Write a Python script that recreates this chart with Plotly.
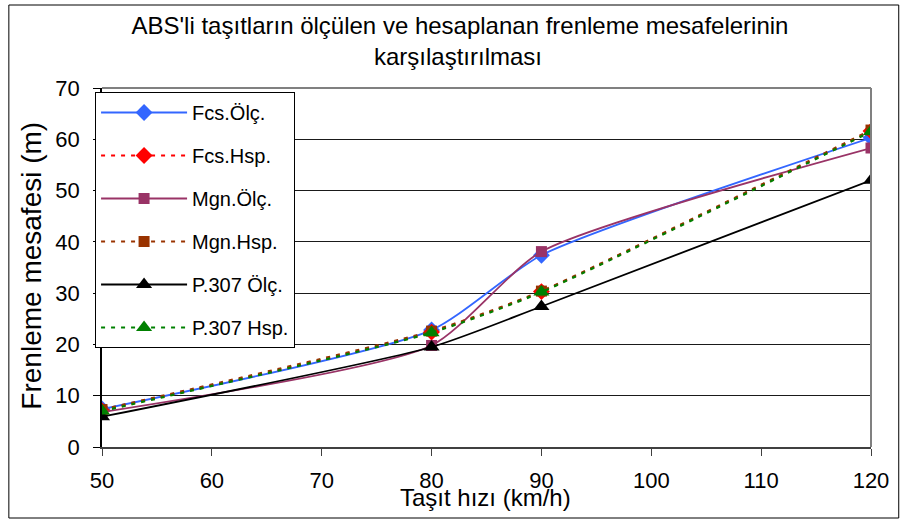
import plotly.graph_objects as go

# Vehicle speed (km/h)
speed = [50, 80, 90, 120]

# Braking distances (m): measured (Ölç.) and calculated (Hsp.)
fcs_olc = [7.4, 22.8, 37.4, 60.3]
fcs_hsp = [7.1, 22.4, 30.3, 61.6]
mgn_olc = [6.8, 19.8, 38.1, 58.3]
mgn_hsp = [7.3, 22.6, 30.4, 61.8]
p307_olc = [5.9, 19.5, 27.4, 52.0]
p307_hsp = [7.0, 22.3, 30.2, 61.5]

x_ticks = [50, 60, 70, 80, 90, 100, 110, 120]
y_ticks = [0, 10, 20, 30, 40, 50, 60, 70]

series = [
    ("Fcs.Ölç.", fcs_olc, "#3366FF", "solid", "diamond", 13),
    ("Fcs.Hsp.", fcs_hsp, "#FF0000", "4px,6px", "diamond", 13),
    ("Mgn.Ölç.", mgn_olc, "#993366", "solid", "square", 11),
    ("Mgn.Hsp.", mgn_hsp, "#993300", "4px,6px", "square", 11),
    ("P.307 Ölç.", p307_olc, "#000000", "solid", "triangle-up", 14),
    ("P.307 Hsp.", p307_hsp, "#008000", "4px,6px", "triangle-up", 14),
]

fig = go.Figure()
for i, (name, vals, color, dash, symbol, msize) in enumerate(series):
    fig.add_trace(go.Scatter(
        x=speed, y=vals, name=name, mode="lines+markers",
        legendgroup=f"g{i}",
        line=dict(color=color, width=2.2 if dash != "solid" else 1.8,
                  dash=dash, shape="spline", smoothing=0.6),
        marker=dict(symbol=symbol, size=msize, color=color,
                    line=dict(width=0)),
    ))

L, R, T, B = 102, 23, 88, 73
W, H = 901, 520
pw, ph = W - L - R, H - T - B

def px_x(p):
    return (p - L) / pw

def px_y(p):
    return (H - B - p) / ph

fig.update_layout(
    width=W, height=H,
    margin=dict(l=L, r=R, t=T, b=B, pad=0),
    paper_bgcolor="white", plot_bgcolor="white",
    font=dict(family="Liberation Sans, Arial, sans-serif", color="black", size=20),
    title=dict(text="ABS'li taşıtların ölçülen ve hesaplanan frenleme mesafelerinin",
               x=460 / W, xanchor="center", y=1 - 26 / H, yanchor="middle",
               font=dict(size=24)),
    showlegend=True,
    legend=dict(
        x=px_x(95), xanchor="left", y=px_y(92), yanchor="top",
        bgcolor="white", bordercolor="black", borderwidth=1,
        font=dict(size=20), tracegroupgap=14, itemwidth=86,
    ),
    xaxis=dict(
        range=[50, 120], tickvals=x_ticks, ticktext=[str(v) for v in x_ticks],
        showgrid=False, zeroline=False,
        showline=True, linecolor="#404040", linewidth=1.5,
        ticks="outside", ticklen=7, tickcolor="#404040", tickwidth=1,
        tickfont=dict(size=22), ticklabelstandoff=6,
    ),
    yaxis=dict(
        range=[0, 70], tickvals=y_ticks, ticktext=[str(v) for v in y_ticks],
        showgrid=True, gridcolor="#1a1a1a", gridwidth=1, zeroline=False,
        showline=True, linecolor="black", linewidth=1.5,
        ticks="outside", ticklen=7, tickcolor="black", tickwidth=1,
        tickfont=dict(size=22), ticklabelstandoff=9,
    ),
    shapes=[
        # outer chart frame
        dict(type="rect", xref="paper", yref="paper",
             x0=px_x(8), x1=px_x(W + 5), y0=px_y(518), y1=px_y(5),
             line=dict(color="black", width=1), layer="below"),
        # plot area frame (top and right edges)
        dict(type="line", xref="paper", yref="paper",
             x0=0, x1=1, y0=1, y1=1, line=dict(color="#808080", width=2)),
        dict(type="line", xref="paper", yref="paper",
             x0=1, x1=1, y0=0, y1=1, line=dict(color="#808080", width=2)),
    ],
    annotations=[
        dict(text="karşılaştırılması", xref="paper", yref="paper",
             x=px_x(461), y=px_y(57), xanchor="center", yanchor="middle",
             showarrow=False, font=dict(size=24)),
        dict(text="Taşıt hızı (km/h)", xref="paper", yref="paper",
             x=px_x(489), y=px_y(497), xanchor="center", yanchor="middle",
             showarrow=False, font=dict(size=24)),
        dict(text="Frenleme mesafesi (m)", xref="paper", yref="paper",
             x=px_x(30), y=px_y(266), xanchor="center", yanchor="middle",
             textangle=-90, showarrow=False, font=dict(size=28)),
    ],
)

fig.write_html("out.html")
